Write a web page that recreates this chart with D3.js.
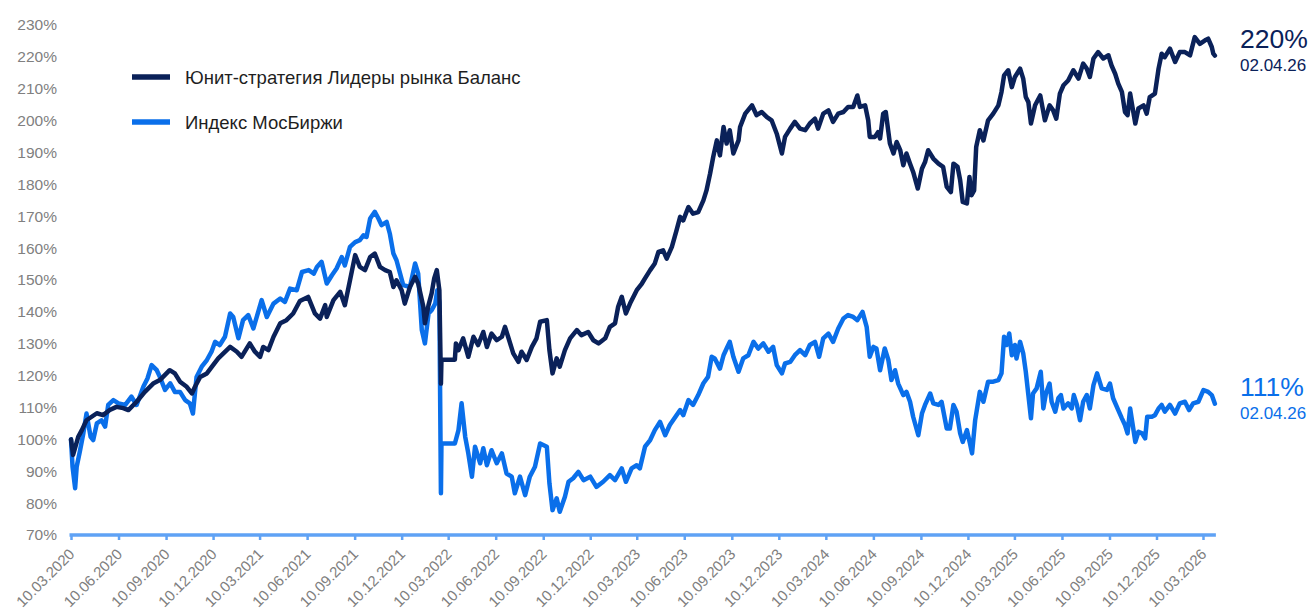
<!DOCTYPE html>
<html><head><meta charset="utf-8">
<script src="https://cdn.jsdelivr.net/npm/d3@7/dist/d3.min.js"></script>
<style>body{margin:0;background:#fff}svg{display:block}</style>
</head><body><svg id="chart" width="1313" height="610"></svg>
<script>
const tickLabels = ["10.03.2020","10.06.2020","10.09.2020","10.12.2020","10.03.2021","10.06.2021","10.09.2021","10.12.2021","10.03.2022","10.06.2022","10.09.2022","10.12.2022","10.03.2023","10.06.2023","10.09.2023","10.12.2023","10.03.2024","10.06.2024","10.09.2024","10.12.2024","10.03.2025","10.06.2025","10.09.2025","10.12.2025","10.03.2026"];
const yTicks = [70,80,90,100,110,120,130,140,150,160,170,180,190,200,210,220,230];
const seriesNames = ["Юнит-стратегия Лидеры рынка Баланс","Индекс МосБиржи"];
const endDateLabel = "02.04.26";

const stratDates = ["2020-03-10","2020-03-14","2020-03-24","2020-03-31","2020-04-09","2020-04-19","2020-04-29","2020-05-11","2020-05-24","2020-06-06","2020-06-19","2020-06-29","2020-07-15","2020-07-31","2020-08-16","2020-08-29","2020-09-17","2020-09-27","2020-10-07","2020-10-20","2020-10-30","2020-11-05","2020-11-15","2020-11-28","2020-12-10","2020-12-20","2020-12-30","2021-01-12","2021-01-25","2021-02-03","2021-02-19","2021-03-01","2021-03-11","2021-03-17","2021-03-27","2021-04-06","2021-04-19","2021-05-01","2021-05-14","2021-05-27","2021-06-12","2021-06-25","2021-07-05","2021-07-15","2021-07-18","2021-07-31","2021-08-13","2021-08-22","2021-09-01","2021-09-11","2021-09-20","2021-09-30","2021-10-10","2021-10-19","2021-10-29","2021-11-08","2021-11-17","2021-11-24","2021-11-30","2021-12-10","2021-12-16","2021-12-26","2022-01-05","2022-01-11","2022-01-21","2022-01-24","2022-01-31","2022-02-06","2022-02-11","2022-02-16","2022-02-21","2022-02-24","2022-02-25","2022-03-23","2022-03-25","2022-03-30","2022-04-08","2022-04-18","2022-04-28","2022-05-07","2022-05-17","2022-05-24","2022-06-02","2022-06-12","2022-06-22","2022-06-28","2022-07-04","2022-07-14","2022-07-24","2022-07-30","2022-08-09","2022-08-19","2022-08-28","2022-09-04","2022-09-17","2022-09-22","2022-09-28","2022-10-06","2022-10-12","2022-10-22","2022-11-01","2022-11-14","2022-11-23","2022-12-06","2022-12-16","2022-12-26","2023-01-08","2023-01-17","2023-01-27","2023-02-02","2023-02-09","2023-02-17","2023-02-25","2023-03-10","2023-03-20","2023-03-26","2023-04-05","2023-04-14","2023-04-21","2023-04-30","2023-05-07","2023-05-17","2023-05-26","2023-06-02","2023-06-08","2023-06-18","2023-06-27","2023-07-07","2023-07-17","2023-07-23","2023-07-30","2023-08-05","2023-08-12","2023-08-18","2023-08-25","2023-08-31","2023-09-06","2023-09-13","2023-09-23","2023-09-26","2023-10-06","2023-10-19","2023-10-28","2023-11-07","2023-11-17","2023-11-26","2023-12-06","2023-12-16","2023-12-22","2024-01-01","2024-01-10","2024-01-20","2024-01-30","2024-02-08","2024-02-18","2024-02-24","2024-03-05","2024-03-15","2024-03-24","2024-04-03","2024-04-13","2024-04-22","2024-05-02","2024-05-10","2024-05-15","2024-05-25","2024-05-31","2024-06-03","2024-06-13","2024-06-19","2024-06-23","2024-06-29","2024-07-04","2024-07-12","2024-07-19","2024-07-25","2024-08-01","2024-08-07","2024-08-13","2024-08-20","2024-08-26","2024-09-04","2024-09-12","2024-09-18","2024-09-24","2024-10-04","2024-10-14","2024-10-23","2024-10-30","2024-11-07","2024-11-12","2024-11-20","2024-11-25","2024-11-30","2024-12-08","2024-12-13","2024-12-17","2024-12-22","2024-12-26","2025-01-02","2025-01-09","2025-01-18","2025-01-28","2025-02-07","2025-02-13","2025-02-18","2025-02-26","2025-03-05","2025-03-11","2025-03-21","2025-03-27","2025-04-01","2025-04-06","2025-04-11","2025-04-19","2025-04-29","2025-05-08","2025-05-17","2025-05-24","2025-05-30","2025-06-06","2025-06-13","2025-06-22","2025-07-02","2025-07-12","2025-07-21","2025-07-28","2025-08-03","2025-08-10","2025-08-19","2025-08-29","2025-09-08","2025-09-14","2025-09-21","2025-09-27","2025-10-04","2025-10-10","2025-10-15","2025-10-20","2025-10-25","2025-10-30","2025-11-05","2025-11-15","2025-11-21","2025-11-27","2025-12-07","2025-12-14","2025-12-20","2025-12-26","2026-01-05","2026-01-15","2026-01-24","2026-02-03","2026-02-13","2026-02-22","2026-03-04","2026-03-14","2026-03-20","2026-03-27","2026-03-30","2026-04-02"];
const stratValues = [100.0,95.1,100.8,102.9,106.0,107.1,108.2,107.6,109.2,110.2,109.8,109.2,111.8,114.9,117.5,118.6,121.7,120.7,118.1,116.5,114.4,116.5,119.6,120.7,123.3,125.4,127.0,129.0,127.5,125.9,130.1,127.5,125.9,129.0,128.0,132.2,136.4,137.4,139.5,143.4,144.7,139.5,137.9,142.1,138.4,143.7,146.3,142.1,149.9,157.8,154.1,153.1,157.2,158.3,154.1,153.1,152.5,147.8,149.9,146.8,142.6,147.8,151.0,148.9,141.6,136.4,142.1,145.8,150.5,153.1,146.8,117.5,125.0,125.0,130.1,128.0,131.7,125.9,132.2,129.6,133.7,129.0,133.2,131.1,132.2,135.3,132.2,127.0,124.3,127.5,124.9,129.0,131.7,136.9,137.4,128.0,120.7,125.4,122.8,128.0,131.7,134.3,132.7,133.7,131.1,130.1,131.7,135.3,136.4,141.6,144.7,139.5,142.6,146.8,148.9,150.5,153.1,155.2,158.8,159.3,156.7,160.4,165.6,169.8,168.7,172.9,170.8,171.3,175.0,178.1,183.4,188.6,193.8,189.1,198.0,192.8,197.0,189.7,193.8,198.0,202.2,204.8,201.7,202.7,201.1,200.1,195.9,189.7,194.9,197.5,199.6,197.5,197.0,199.1,200.6,197.5,202.2,203.2,199.6,202.2,202.7,204.3,204.3,207.9,204.3,204.8,200.1,194.9,194.9,196.4,194.4,202.2,202.7,192.8,189.7,193.3,190.7,186.0,189.7,186.5,183.9,178.7,184.9,187.0,190.7,188.1,186.5,185.5,179.2,177.6,186.5,185.5,181.3,174.5,174.0,182.3,176.6,178.1,191.7,197.0,193.8,200.1,202.2,204.8,209.0,214.2,215.8,210.5,213.7,216.3,213.2,207.4,205.8,199.1,204.8,207.9,200.1,204.8,203.2,200.6,208.5,211.1,212.6,215.8,213.2,217.9,216.3,213.7,219.5,221.5,219.5,220.5,217.3,214.7,211.6,209.0,202.7,201.7,208.5,203.8,199.1,203.8,204.8,202.2,207.4,208.5,216.3,221.0,219.9,222.6,218.4,221.5,221.5,220.5,226.2,224.1,225.2,225.7,223.1,221.0,220.4];

const indexDates = ["2020-03-10","2020-03-13","2020-03-18","2020-03-21","2020-03-27","2020-04-03","2020-04-09","2020-04-17","2020-04-22","2020-04-29","2020-05-08","2020-05-15","2020-05-21","2020-05-31","2020-06-10","2020-06-23","2020-07-05","2020-07-15","2020-07-28","2020-08-05","2020-08-13","2020-08-23","2020-08-29","2020-09-08","2020-09-18","2020-09-27","2020-10-07","2020-10-17","2020-10-26","2020-11-01","2020-11-08","2020-11-18","2020-11-28","2020-12-07","2020-12-14","2020-12-23","2021-01-02","2021-01-12","2021-01-18","2021-01-28","2021-02-06","2021-02-16","2021-02-26","2021-03-14","2021-03-24","2021-04-06","2021-04-19","2021-04-28","2021-05-08","2021-05-21","2021-05-31","2021-06-13","2021-06-23","2021-06-29","2021-07-08","2021-07-18","2021-07-28","2021-08-06","2021-08-16","2021-08-22","2021-09-01","2021-09-11","2021-09-20","2021-09-27","2021-10-03","2021-10-10","2021-10-19","2021-10-26","2021-11-01","2021-11-11","2021-11-17","2021-11-24","2021-11-30","2021-12-07","2021-12-13","2021-12-26","2022-01-05","2022-01-11","2022-01-18","2022-01-24","2022-01-31","2022-02-06","2022-02-13","2022-02-17","2022-02-21","2022-02-24","2022-02-25","2022-03-23","2022-03-30","2022-04-05","2022-04-12","2022-04-18","2022-04-25","2022-05-01","2022-05-11","2022-05-17","2022-05-24","2022-06-02","2022-06-12","2022-06-22","2022-07-01","2022-07-11","2022-07-17","2022-07-27","2022-08-06","2022-08-15","2022-08-25","2022-09-04","2022-09-17","2022-09-22","2022-09-28","2022-10-06","2022-10-12","2022-10-22","2022-10-29","2022-11-07","2022-11-17","2022-11-27","2022-12-10","2022-12-22","2023-01-04","2023-01-17","2023-01-27","2023-02-09","2023-02-17","2023-02-28","2023-03-10","2023-03-16","2023-03-26","2023-04-05","2023-04-14","2023-04-24","2023-05-04","2023-05-13","2023-05-26","2023-06-02","2023-06-08","2023-06-18","2023-06-27","2023-07-07","2023-07-17","2023-07-26","2023-08-02","2023-08-08","2023-08-18","2023-08-25","2023-08-31","2023-09-06","2023-09-13","2023-09-23","2023-10-02","2023-10-12","2023-10-22","2023-10-31","2023-11-10","2023-11-20","2023-11-29","2023-12-06","2023-12-16","2023-12-22","2024-01-01","2024-01-10","2024-01-20","2024-01-30","2024-02-08","2024-02-18","2024-02-26","2024-03-05","2024-03-15","2024-03-24","2024-04-03","2024-04-13","2024-04-22","2024-05-02","2024-05-10","2024-05-20","2024-05-28","2024-06-03","2024-06-10","2024-06-16","2024-06-23","2024-07-02","2024-07-09","2024-07-15","2024-07-22","2024-07-28","2024-08-07","2024-08-13","2024-08-20","2024-08-26","2024-09-05","2024-09-12","2024-09-18","2024-09-28","2024-10-04","2024-10-14","2024-10-20","2024-10-30","2024-11-05","2024-11-12","2024-11-18","2024-11-25","2024-11-30","2024-12-08","2024-12-14","2024-12-18","2024-12-24","2025-01-02","2025-01-09","2025-01-18","2025-01-28","2025-02-07","2025-02-13","2025-02-18","2025-02-23","2025-02-28","2025-03-05","2025-03-11","2025-03-14","2025-03-21","2025-03-27","2025-04-01","2025-04-06","2025-04-11","2025-04-15","2025-04-22","2025-04-30","2025-05-05","2025-05-10","2025-05-17","2025-05-21","2025-05-28","2025-06-03","2025-06-08","2025-06-13","2025-06-22","2025-06-29","2025-07-03","2025-07-09","2025-07-15","2025-07-21","2025-07-28","2025-08-03","2025-08-10","2025-08-17","2025-08-26","2025-09-05","2025-09-11","2025-09-17","2025-09-27","2025-10-04","2025-10-10","2025-10-15","2025-10-20","2025-10-25","2025-10-30","2025-11-05","2025-11-12","2025-11-18","2025-11-22","2025-12-01","2025-12-07","2025-12-14","2025-12-20","2025-12-26","2026-01-05","2026-01-15","2026-01-24","2026-02-03","2026-02-11","2026-02-19","2026-03-01","2026-03-11","2026-03-20","2026-03-27","2026-04-02"];
const indexValues = [100.0,91.4,84.7,91.4,96.1,102.0,108.1,100.8,99.8,105.0,106.0,104.0,110.8,112.3,111.3,110.8,113.4,110.8,116.5,119.1,123.3,121.7,119.6,115.5,117.6,114.9,114.9,112.3,111.3,108.1,119.6,122.8,124.9,127.5,130.6,129.6,132.2,139.5,138.4,131.7,137.4,139.0,134.8,143.7,138.4,142.6,144.2,143.1,147.3,146.8,152.5,153.1,152.0,154.1,155.7,148.9,151.5,153.6,157.2,154.6,160.4,161.9,162.5,164.0,163.5,169.3,171.4,169.3,167.2,168.2,164.6,158.3,156.2,152.0,148.4,147.8,155.2,152.0,134.3,130.1,139.5,140.5,142.6,146.8,143.0,83.1,98.7,98.7,102.9,111.3,100.8,95.6,88.3,97.7,92.5,97.2,91.9,96.6,92.5,95.6,89.3,88.3,83.1,88.3,82.5,88.3,91.4,98.7,97.7,86.2,77.8,81.5,77.3,82.0,86.7,87.8,89.8,87.2,88.3,85.1,86.7,88.8,87.2,90.9,86.7,90.9,91.9,90.9,97.7,99.8,102.9,105.5,101.3,104.5,107.6,109.2,107.6,112.3,110.8,113.9,117.6,119.6,125.9,125.4,122.2,126.4,128.5,130.6,125.9,121.2,125.4,126.4,130.6,128.5,130.1,127.5,129.0,123.3,120.7,123.8,124.3,126.4,128.0,126.4,129.6,130.6,125.9,131.7,133.2,130.6,134.8,137.9,139.0,138.4,137.4,140.0,135.3,125.9,129.0,128.5,121.7,128.5,124.9,118.6,121.7,117.5,113.9,114.9,111.8,107.1,101.3,108.1,110.8,114.4,111.3,110.8,111.8,103.4,103.4,110.8,108.7,101.9,99.2,102.9,98.7,95.6,106.0,114.9,111.8,118.1,118.1,118.6,120.7,132.2,129.6,133.2,126.4,129.6,125.4,130.6,127.0,121.2,113.9,106.6,114.4,116.0,121.2,109.7,114.4,117.5,111.8,108.7,112.9,113.9,109.7,111.3,109.7,113.9,110.8,106.0,111.8,113.9,109.7,117.0,120.7,116.0,115.5,117.5,112.9,109.2,106.6,104.5,101.9,109.7,104.5,99.2,102.4,101.9,100.3,107.1,107.1,107.6,109.7,110.8,108.7,110.8,108.1,111.3,111.8,109.2,111.3,111.8,115.5,114.9,113.9,111.2];

const colors = {strat:"#0A2159", index:"#0A6FEA", axis:"#5FA2F5", label:"#808080", legendText:"#1E1E1E"};

const parseISO = d3.timeParse("%Y-%m-%d");
const parseTick = d3.timeParse("%d.%m.%Y");
const fmtTick = d3.timeFormat("%d.%m.%Y");
const tickDates = tickLabels.map(parseTick);

const strat = stratDates.map((d,i)=>({date:parseISO(d), value:stratValues[i]}));
const index = indexDates.map((d,i)=>({date:parseISO(d), value:indexValues[i]}));

const svg = d3.select("#chart");
const FONT = "Arial, 'Liberation Sans', Helvetica, sans-serif";

const x = d3.scaleTime().domain([tickDates[0], tickDates[tickDates.length-1]]).range([71,1203]);
const y = d3.scaleLinear().domain([70,230]).range([535,25]);

// Y axis labels
const yAxis = svg.append("g").attr("transform","translate(57,0)")
  .call(d3.axisLeft(y).tickValues(yTicks).tickSize(0).tickPadding(0).tickFormat(d=>d+"%"));
yAxis.select(".domain").remove();
yAxis.selectAll("text").attr("fill",colors.label).style("font-family",FONT).style("font-size","15.5px");

// X axis
const lastDate = strat[strat.length-1].date;
const xAxis = svg.append("g").attr("transform","translate(0,535)")
  .call(d3.axisBottom(x).tickValues(tickDates).tickSize(5).tickFormat(fmtTick));
xAxis.select(".domain").remove();
xAxis.selectAll(".tick line").attr("stroke",colors.axis).attr("stroke-width",2.5);
xAxis.selectAll(".tick text")
  .attr("fill",colors.label).style("font-family",FONT).style("font-size","15px")
  .attr("text-anchor","end").attr("dy",null).attr("y",null)
  .attr("transform","translate(4,20) rotate(-45)");
xAxis.append("line").attr("x1",x(tickDates[0])-1.5).attr("x2",x(lastDate)+1).attr("y1",0).attr("y2",0)
  .attr("stroke",colors.axis).attr("stroke-width",3.5);

// Lines
const line = d3.line().x(d=>x(d.date)).y(d=>y(d.value));
svg.append("path").datum(index).attr("d",line).attr("fill","none")
  .attr("stroke",colors.index).attr("stroke-width",4.5).attr("stroke-linejoin","round").attr("stroke-linecap","round");
svg.append("path").datum(strat).attr("d",line).attr("fill","none")
  .attr("stroke",colors.strat).attr("stroke-width",4.5).attr("stroke-linejoin","round").attr("stroke-linecap","round");

// Legend
const legend = svg.append("g");
[[seriesNames[0],colors.strat,77],[seriesNames[1],colors.index,122]].forEach(([name,c,ly])=>{
  legend.append("line").attr("x1",132).attr("x2",170).attr("y1",ly).attr("y2",ly).attr("stroke",c).attr("stroke-width",5.5);
  legend.append("text").attr("x",185).attr("y",ly+0.5).attr("dominant-baseline","central")
    .style("font-family",FONT).style("font-size","18.5px").attr("fill",colors.legendText).text(name);
});

// End labels
[[strat,colors.strat],[index,colors.index]].forEach(([s,c])=>{
  const last = s[s.length-1];
  const g = svg.append("g").attr("transform",`translate(1240,${y(last.value)})`);
  g.append("text").attr("y",-8).style("font-family",FONT).style("font-size","26.5px").attr("fill",c)
    .text(Math.round(last.value)+"%");
  g.append("text").attr("y",15.5).style("font-family",FONT).style("font-size","17px").attr("fill",c)
    .text(endDateLabel);
});
</script></body></html>
